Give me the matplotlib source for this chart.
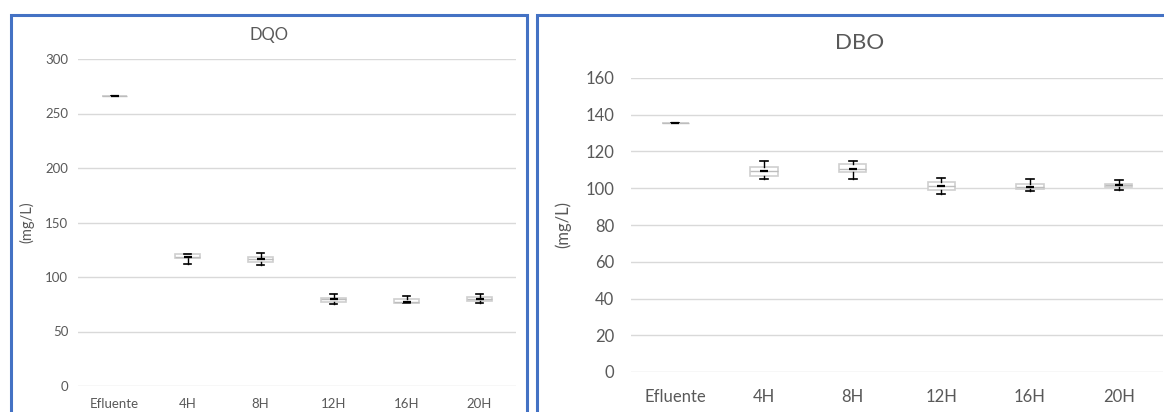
import matplotlib.pyplot as plt
from matplotlib.patches import Rectangle

plt.rcParams['font.family'] = ['Lato', 'DejaVu Sans']

categorias = ['Efluente', '4H', '8H', '12H', '16H', '20H']

# DQO (mg/L): min, Q1, media, Q3, max
dqo_min = [266.3, 112.3, 110.7, 75.2, 75.8, 76.4]
dqo_q1 = [266.3, 117.1, 114.0, 77.1, 76.4, 78.0]
dqo_media = [266.3, 118.6, 116.2, 79.5, 77.5, 79.8]
dqo_q3 = [266.3, 120.8, 118.6, 81.0, 79.8, 81.9]
dqo_max = [266.3, 121.0, 121.7, 84.1, 82.8, 84.1]

# DBO (mg/L)
dbo_min = [135.7, 105.2, 105.3, 96.9, 98.7, 99.0]
dbo_q1 = [135.7, 106.6, 109.0, 99.3, 99.6, 100.8]
dbo_media = [135.7, 109.5, 110.5, 101.2, 100.9, 101.8]
dbo_q3 = [135.7, 111.8, 113.2, 103.6, 102.1, 102.5]
dbo_max = [135.7, 114.8, 114.6, 105.4, 104.8, 104.5]

dqo_ticks = [0, 50, 100, 150, 200, 250, 300]
dbo_ticks = [0, 20, 40, 60, 80, 100, 120, 140, 160]

W, H = 1164, 412
fig = plt.figure(figsize=(W / 100, H / 100), dpi=100)
gray_txt = '#595959'
blue = '#4472C4'


def caixa(ax, mins, q1s, medias, q3s, maxs, width, capw, ticks, fs, pad_x, pad_y):
    stats = []
    for lab, lo, q1, m, q3, hi in zip(categorias, mins, q1s, medias, q3s, maxs):
        stats.append(dict(label=lab, whislo=lo, q1=q1, med=m, mean=m, q3=q3,
                          whishi=hi, fliers=[]))
    ax.bxp(stats, positions=range(len(stats)), widths=width, patch_artist=True,
           showmeans=True, showfliers=False, capwidths=capw,
           boxprops=dict(facecolor='white', edgecolor='#cfcfcf', linewidth=1.2),
           whiskerprops=dict(color='black', linewidth=1.0),
           capprops=dict(color='black', linewidth=1.2),
           medianprops=dict(color='#bdbdbd', linewidth=1.0),
           meanprops=dict(marker='_', markeredgecolor='black', markersize=6,
                          markeredgewidth=1.6))
    ax.set_xlim(-0.5, len(stats) - 0.5)
    ax.set_ylim(ticks[0], ticks[-1])
    ax.set_yticks(ticks)
    ax.grid(axis='y', color='#d9d9d9', linewidth=1.0)
    ax.set_axisbelow(True)
    for s in ax.spines.values():
        s.set_visible(False)
    ax.tick_params(length=0, labelsize=fs, colors=gray_txt)
    ax.tick_params(axis='x', pad=pad_x)
    ax.tick_params(axis='y', pad=pad_y)


# DQO
ax1 = fig.add_axes([78 / W, 1 - 386 / H, (516 - 78) / W, (386 - 59) / H])
caixa(ax1, dqo_min, dqo_q1, dqo_media, dqo_q3, dqo_max, 0.33, 0.1,
      dqo_ticks, 9.5, 9, 7)
ax1.set_ylabel('(mg/L)', fontsize=10.5, color=gray_txt)
ax1.yaxis.set_label_coords(-0.10, 0.5)
fig.text(269 / W, 1 - 35 / H, 'DQO', ha='center', va='center',
         fontsize=12, color=gray_txt)

# DBO
ax2 = fig.add_axes([631 / W, 1 - 372 / H, (1163 - 631) / W, (372 - 78) / H])
caixa(ax2, dbo_min, dbo_q1, dbo_media, dbo_q3, dbo_max, 0.31, 0.09,
      dbo_ticks, 12, 12, 12)
ax2.set_ylabel('(mg/L)', fontsize=12, color=gray_txt)
ax2.yaxis.set_label_coords(-0.113, 0.5)
fig.text(860 / W, 1 - 43 / H, 'DBO', ha='center', va='center',
         fontsize=16, color=gray_txt)

# moldura azul de cada gráfico
for x0, x1 in [(11, 527), (537, 1200)]:
    fig.add_artist(Rectangle((x0 / W, -0.1), (x1 - x0) / W, 1.1 - 15 / H,
                             transform=fig.transFigure, fill=False,
                             edgecolor=blue, linewidth=2.2, clip_on=False))

fig.savefig('out.png', dpi=100)
